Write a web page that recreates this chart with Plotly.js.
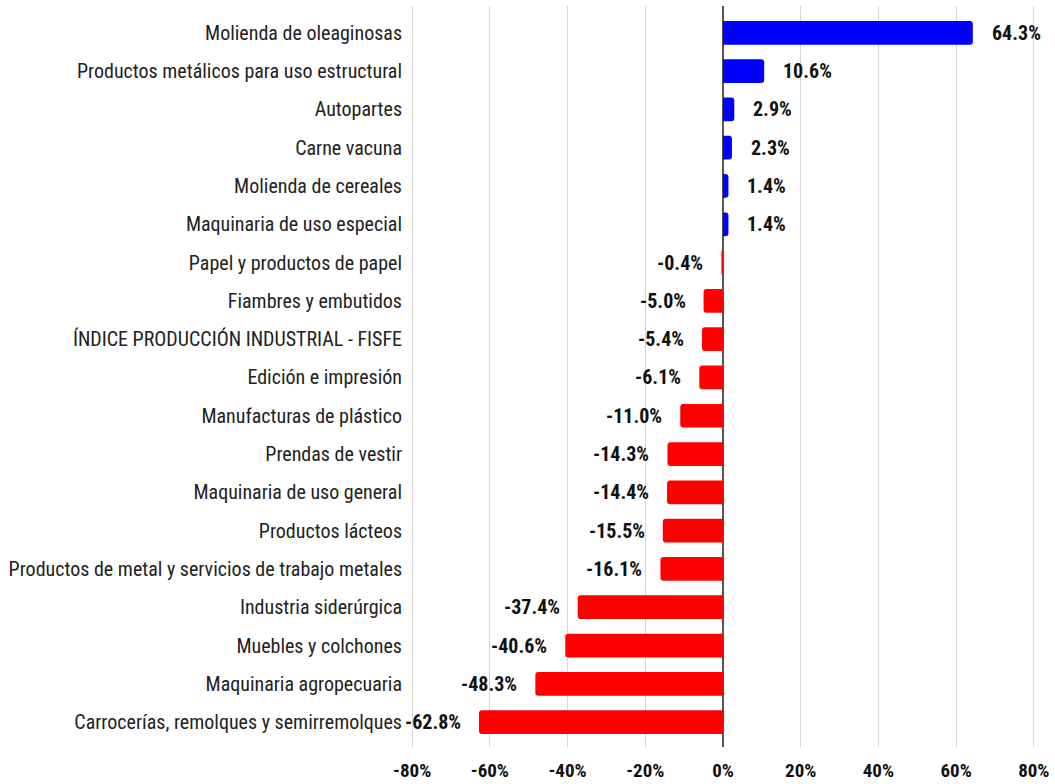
<!DOCTYPE html>
<html>
<head>
<meta charset="utf-8">
<script src="https://cdn.plot.ly/plotly-3.0.1.min.js"></script>
<style>html,body{margin:0;padding:0;background:#fff;}#chart{width:1055px;height:784px;}</style>
</head>
<body>
<div id="chart"></div>
<script>
const categories = [
  "Molienda de oleaginosas",
  "Productos metálicos para uso estructural",
  "Autopartes",
  "Carne vacuna",
  "Molienda de cereales",
  "Maquinaria de uso especial",
  "Papel y productos de papel",
  "Fiambres y embutidos",
  "ÍNDICE PRODUCCIÓN INDUSTRIAL - FISFE",
  "Edición e impresión",
  "Manufacturas de plástico",
  "Prendas de vestir",
  "Maquinaria de uso general",
  "Productos lácteos",
  "Productos de metal y servicios de trabajo metales",
  "Industria siderúrgica",
  "Muebles y colchones",
  "Maquinaria agropecuaria",
  "Carrocerías, remolques y semirremolques"
];
const values = [64.3, 10.6, 2.9, 2.3, 1.4, 1.4, -0.4, -5.0, -5.4, -6.1, -11.0, -14.3, -14.4, -15.5, -16.1, -37.4, -40.6, -48.3, -62.8];
const tickValues = [-80, -60, -40, -20, 0, 20, 40, 60, 80];
const tickLabels = ["-80%", "-60%", "-40%", "-20%", "0%", "20%", "40%", "60%", "80%"];

const FONT = '"Liberation Sans Narrow", "Arial Narrow", "Roboto Condensed", "Roboto", sans-serif';
const colors = values.map(v => v >= 0 ? '#0000ff' : '#ff0000');

const trace = {
  type: 'bar',
  orientation: 'h',
  x: values,
  y: categories,
  marker: {color: colors, cornerradius: 3},
  hoverinfo: 'none',
  width: 0.62
};

const annotations = values.map((v, i) => ({
  x: v, y: categories[i], xref: 'x', yref: 'y',
  text: '<b>' + v.toFixed(1) + '%</b>',
  showarrow: false,
  xanchor: v >= 0 ? 'left' : 'right',
  xshift: v >= 0 ? 17 : -16,
  font: {family: FONT, size: 20, color: '#111'}
}));

const layout = {
  width: 1055, height: 784,
  margin: {l: 411, r: 20, t: 6, b: 37},
  paper_bgcolor: '#fff', plot_bgcolor: '#fff',
  showlegend: false,
  bargap: 0.37,
  font: {family: FONT},
  xaxis: {
    range: [-80.3, 80.3],
    tickvals: tickValues, ticktext: tickLabels,
    showgrid: true, gridcolor: '#d6d6d6', gridwidth: 1,
    zeroline: true, zerolinecolor: '#555', zerolinewidth: 2,
    ticks: '', ticklabelstandoff: 10,
    tickfont: {family: FONT, size: 19, color: '#111', weight: 'bold'},
    fixedrange: true
  },
  yaxis: {
    type: 'category',
    categoryorder: 'array', categoryarray: categories,
    range: [18.65, -0.7],
    showgrid: false, zeroline: false, ticks: '',
    ticklabelstandoff: 8,
    tickfont: {family: FONT, size: 20, color: '#222'},
    fixedrange: true
  },
  annotations: annotations
};

Plotly.newPlot('chart', [trace], layout, {displayModeBar: false, staticPlot: true});
</script>
</body>
</html>
